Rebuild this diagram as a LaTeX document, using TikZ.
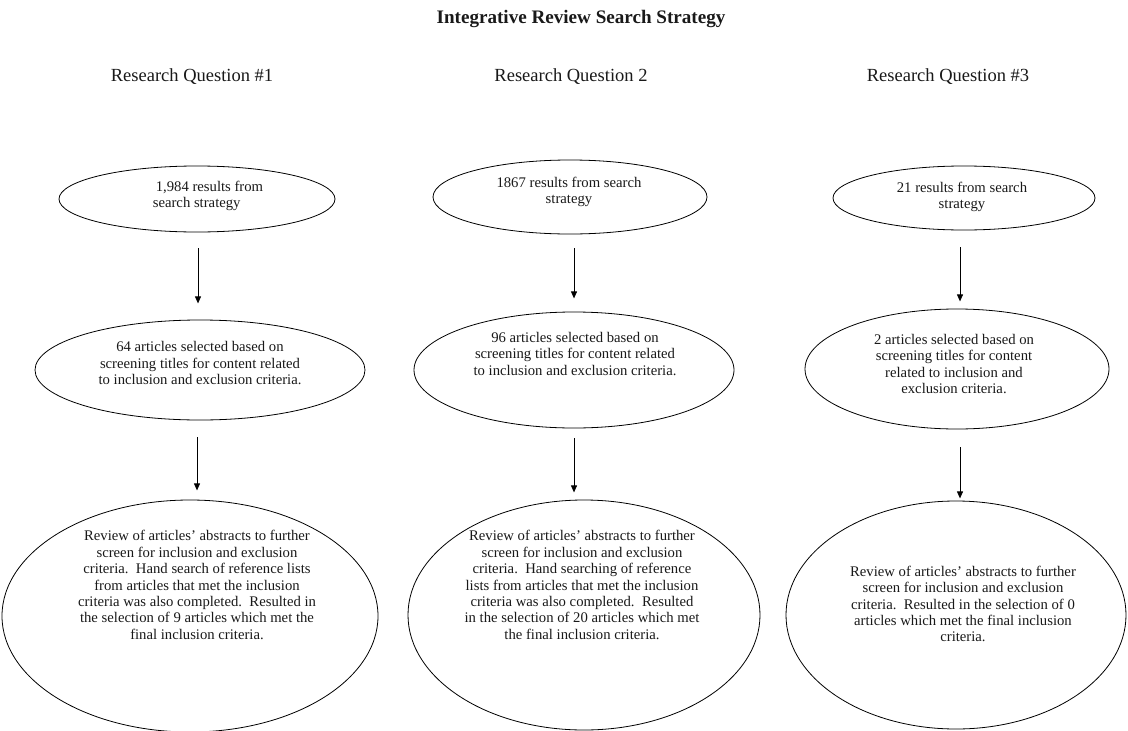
\documentclass[tikz,border=0pt]{standalone}
\usepackage{fontspec}
\setmainfont{Liberation Serif}
\usetikzlibrary{shapes.geometric,arrows.meta}
\begin{document}
\begin{tikzpicture}[x=1pt,y=-1pt,
  oval/.style={draw=black,line width=0.8pt,ellipse,inner sep=0pt},
  body/.style={font=\fontsize{14.7}{16.4}\selectfont,align=center,inner sep=0pt,text=black!90},
  head/.style={font=\fontsize{18.5}{22}\selectfont,inner sep=0pt,text=black!90},
  arr/.style={line width=0.9pt,-{Triangle[length=7pt,width=6pt]}}]
\useasboundingbox (0,0) rectangle (1128,731);
% titles
\node[head,font=\fontsize{19.1}{22}\selectfont\bfseries] (title) at (581,19) {Integrative Review Search Strategy};
\node[head] (q1) at (192,77) {Research Question \#1};
\node[head] (q2) at (571,77) {Research Question 2};
\node[head] (q3) at (948,77) {Research Question \#3};
% row 1
\node[oval,minimum width=276pt,minimum height=66pt] (e1) at (197,199) {};
\node[oval,minimum width=274pt,minimum height=74pt] (e2) at (570,197) {};
\node[oval,minimum width=262pt,minimum height=64pt] (e3) at (964,198) {};
\node[body,align=left] (t1) at (208,196) {\hspace{3pt}1,984 results from\\search strategy};
\node[body] (t2) at (569,192) {1867 results from search\\strategy};
\node[body] (t3) at (962,197) {21 results from search\\strategy};
% row 2
\node[oval,minimum width=330pt,minimum height=100pt] (e4) at (200,370) {};
\node[oval,minimum width=320pt,minimum height=116pt] (e5) at (574,370) {};
\node[oval,minimum width=304pt,minimum height=120pt] (e6) at (957,369) {};
\node[body] (t4) at (200,363) {64 articles selected based on\\screening titles for content related\\to inclusion and exclusion criteria.};
\node[body] (t5) at (575,354) {96 articles selected based on\\screening titles for content related\\to inclusion and exclusion criteria.};
\node[body] (t6) at (954,364) {2 articles selected based on\\screening titles for content\\related to inclusion and\\exclusion criteria.};
% row 3
\node[oval,minimum width=376pt,minimum height=232pt] (e7) at (190,616) {};
\node[oval,minimum width=352pt,minimum height=230pt] (e8) at (584,615) {};
\node[oval,minimum width=340pt,minimum height=228pt] (e9) at (956,615) {};
\node[body] (t7) at (197,585) {Review of articles' abstracts to further\\screen for inclusion and exclusion\\criteria.\ \ Hand search of reference lists\\from articles that met the inclusion\\criteria was also completed.\ \ Resulted in\\the selection of 9 articles which met the\\final inclusion criteria.};
\node[body] (t8) at (582,585) {Review of articles' abstracts to further\\screen for inclusion and exclusion\\criteria.\ \ Hand searching of reference\\lists from articles that met the inclusion\\criteria was also completed.\ \ Resulted\\in the selection of 20 articles which met\\the final inclusion criteria.};
\node[body] (t9) at (963,604) {Review of articles' abstracts to further\\screen for inclusion and exclusion\\criteria.\ \ Resulted in the selection of 0\\articles which met the final inclusion\\criteria.};
% arrows
\draw[arr] ([xshift=1pt,yshift=-16pt]e1.south) -- ++(0,55);
\draw[arr] ([xshift=4pt,yshift=-14pt]e2.south) -- ++(0,50);
\draw[arr] ([xshift=-4pt,yshift=-17pt]e3.south) -- ++(0,54);
\draw[arr] ([xshift=-3pt,yshift=-17pt]e4.south) -- ++(0,53);
\draw[arr] ([yshift=-10pt]e5.south) -- ++(0,54);
\draw[arr] ([xshift=3pt,yshift=-18pt]e6.south) -- ++(0,51);
\end{tikzpicture}
\end{document}
